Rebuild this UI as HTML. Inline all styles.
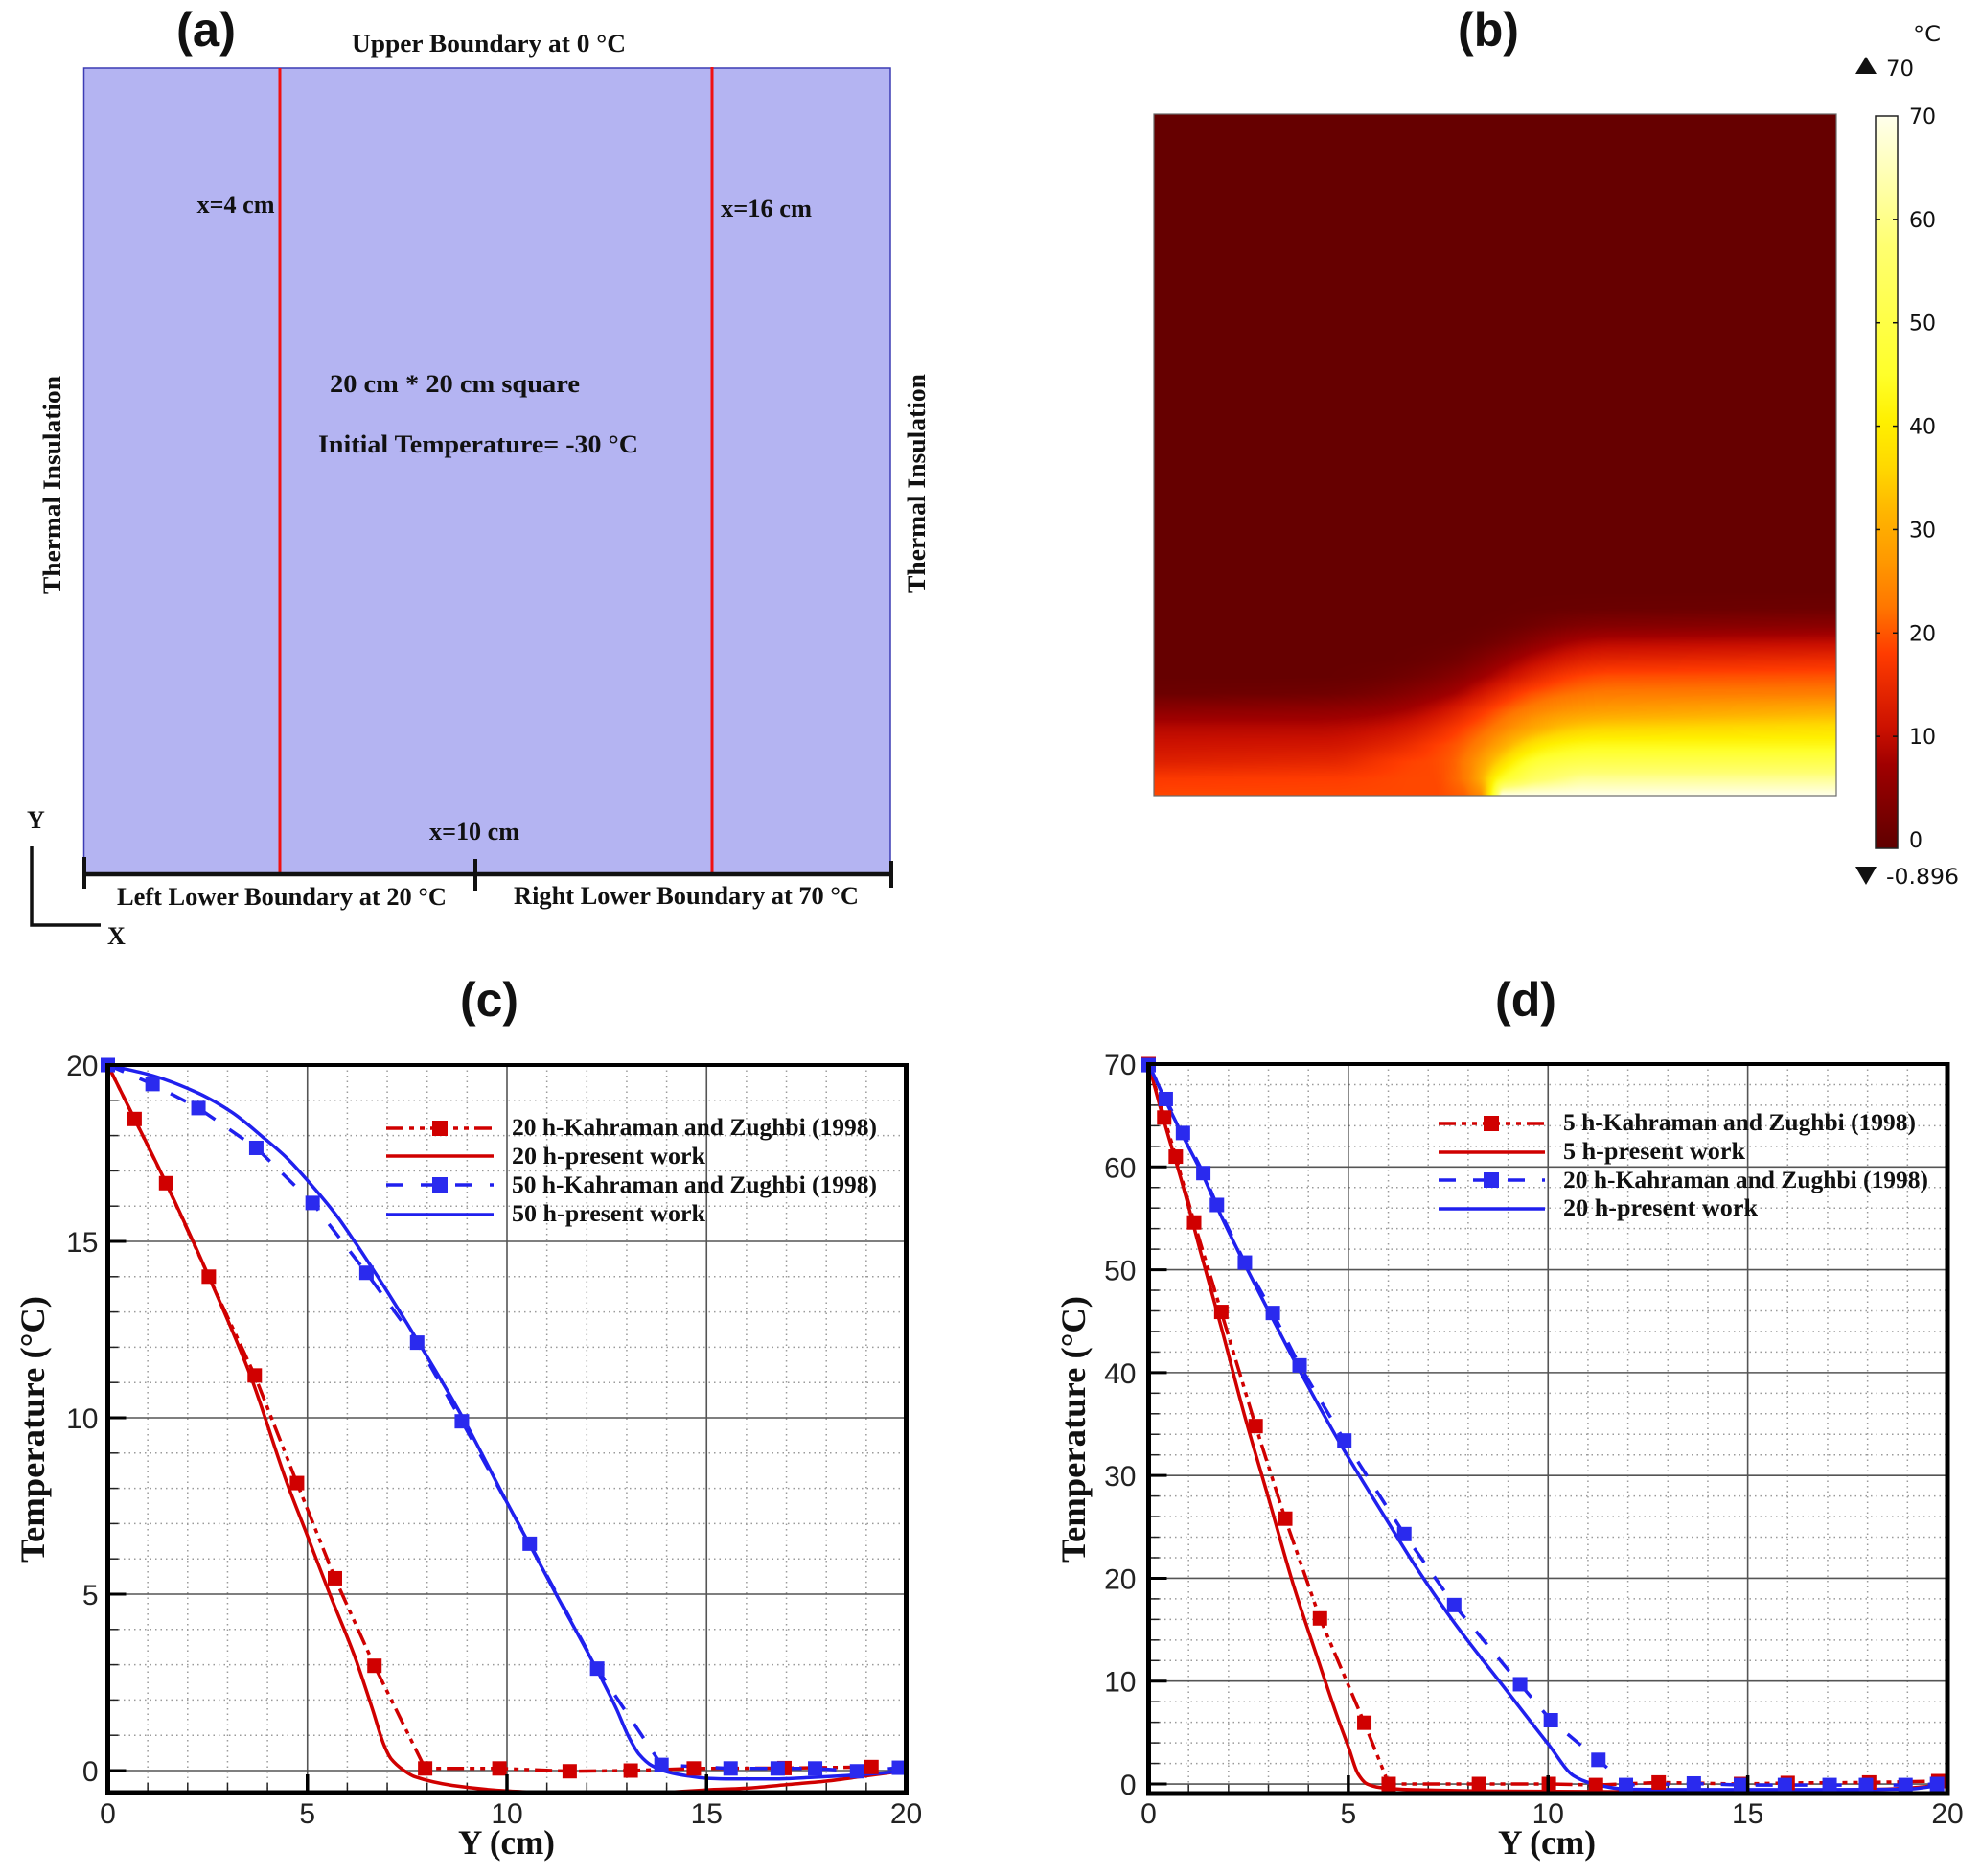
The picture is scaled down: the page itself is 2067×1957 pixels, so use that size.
<!DOCTYPE html>
<html lang="en">
<head>
<meta charset="utf-8">
<title>Temperature field and profiles</title>
<style>
html,body{margin:0;padding:0;background:#fff;}
#stage{position:relative;width:2067px;height:1957px;overflow:hidden;background:#fff;}
#heatmap{position:absolute;left:1204px;top:119px;width:712px;height:711px;}
#overlay{position:absolute;left:0;top:0;}
.serif{font-family:"Liberation Serif",serif;font-weight:bold;fill:#111;}
.sans{font-family:"Liberation Sans",sans-serif;fill:#111;}
.panel{font-family:"Liberation Sans",sans-serif;font-weight:bold;font-size:50px;fill:#111;}
.cb{font-family:"DejaVu Sans",sans-serif;font-size:22px;fill:#111;}
.tick{font-family:"Liberation Sans",sans-serif;font-size:30px;fill:#222;}
.leg{font-family:"Liberation Serif",serif;font-weight:bold;font-size:25px;fill:#111;}
.title{font-family:"Liberation Serif",serif;font-weight:bold;font-size:36px;fill:#111;}
.a{font-family:"Liberation Serif",serif;font-weight:bold;font-size:26px;fill:#111;}
</style>
</head>
<body>
<div id="stage">
<canvas id="heatmap" width="712" height="711"></canvas>
<svg id="overlay" width="2067" height="1957" viewBox="0 0 2067 1957" xmlns="http://www.w3.org/2000/svg">
  <defs>
    <clipPath id="clipC"><rect x="112" y="1105" width="834" height="765"/></clipPath>
    <clipPath id="clipD"><rect x="1198" y="1105" width="834" height="766"/></clipPath>
    <linearGradient id="cbGrad" x1="0" y1="1" x2="0" y2="0">
      <stop offset="0" stop-color="#5f0000"/>
      <stop offset="0.0126" stop-color="#660000"/>
      <stop offset="0.114" stop-color="#a00000"/>
      <stop offset="0.165" stop-color="#cc1100"/>
      <stop offset="0.266" stop-color="#ff3c00"/>
      <stop offset="0.33" stop-color="#ff7700"/>
      <stop offset="0.393" stop-color="#ff9900"/>
      <stop offset="0.456" stop-color="#ffb400"/>
      <stop offset="0.52" stop-color="#ffd800"/>
      <stop offset="0.583" stop-color="#fff000"/>
      <stop offset="0.646" stop-color="#ffff2a"/>
      <stop offset="0.823" stop-color="#ffff70"/>
      <stop offset="1" stop-color="#ffffec"/>
    </linearGradient>
  </defs>

  <!-- Panel (a) -->
  <g>
    <text class="panel" x="184" y="48" textLength="62" lengthAdjust="spacingAndGlyphs">(a)</text>
    <rect x="87.5" y="71" width="841.5" height="841" fill="#b4b4f2" stroke="#3c3cb4" stroke-width="1.5"/>
    <line x1="292" y1="71" x2="292" y2="912" stroke="#f01010" stroke-width="3"/>
    <line x1="743" y1="70" x2="743" y2="912" stroke="#f01010" stroke-width="3"/>
    <line x1="88" y1="912" x2="930" y2="912" stroke="#111" stroke-width="4.5"/>
    <line x1="88" y1="894" x2="88" y2="927" stroke="#111" stroke-width="4"/>
    <line x1="496" y1="896" x2="496" y2="929" stroke="#111" stroke-width="4"/>
    <line x1="930" y1="898" x2="930" y2="926" stroke="#111" stroke-width="4"/>
    <text class="a" x="367" y="54" textLength="286" lengthAdjust="spacingAndGlyphs">Upper Boundary at 0 °C</text>
    <text class="a" x="205.5" y="222" textLength="81" lengthAdjust="spacingAndGlyphs">x=4 cm</text>
    <text class="a" x="752" y="226" textLength="95" lengthAdjust="spacingAndGlyphs">x=16 cm</text>
    <text class="a" x="344" y="409" textLength="261" lengthAdjust="spacingAndGlyphs">20 cm * 20 cm square</text>
    <text class="a" x="332" y="472" textLength="334" lengthAdjust="spacingAndGlyphs">Initial Temperature= -30 °C</text>
    <text class="a" x="448" y="876" textLength="94" lengthAdjust="spacingAndGlyphs">x=10 cm</text>
    <text class="a" x="122" y="944" textLength="344" lengthAdjust="spacingAndGlyphs">Left Lower Boundary at 20 °C</text>
    <text class="a" x="536" y="943" textLength="360" lengthAdjust="spacingAndGlyphs">Right Lower Boundary at 70 °C</text>
    <text class="a" transform="rotate(-90 63 620)" x="63" y="620" textLength="228" lengthAdjust="spacingAndGlyphs">Thermal Insulation</text>
    <text class="a" transform="rotate(-90 965 619)" x="965" y="619" textLength="229" lengthAdjust="spacingAndGlyphs">Thermal Insulation</text>
    <path d="M33 883 V965 H105" fill="none" stroke="#111" stroke-width="3.5"/>
    <text class="a" x="28" y="864">Y</text>
    <text class="a" x="112" y="985">X</text>
  </g>

  <!-- Panel (b) frame and colourbar -->
  <g>
    <text class="panel" x="1521" y="48" textLength="64" lengthAdjust="spacingAndGlyphs">(b)</text>
    <rect x="1204" y="119" width="712" height="711" fill="none" stroke="#6a6a6a" stroke-width="1.2"/>
    <g id="colorbar">
      <rect x="1957" y="121" width="23" height="764" fill="url(#cbGrad)" stroke="#222" stroke-width="1.5"/>
    </g>
    <text class="cb" x="1996" y="43" textLength="29" lengthAdjust="spacingAndGlyphs">°C</text>
    <polygon points="1947,59 1958,77 1936,77" fill="#111"/>
    <text class="cb" x="1968" y="79" textLength="29" lengthAdjust="spacingAndGlyphs">70</text>
    <polygon points="1936,904 1958,904 1947,923" fill="#111"/>
    <text class="cb" x="1968" y="922" textLength="76" lengthAdjust="spacingAndGlyphs">-0.896</text>
  </g>

  <!-- Panel (c) -->
  <g id="chartC">
    <text class="panel" x="480" y="1060" textLength="61" lengthAdjust="spacingAndGlyphs">(c)</text>
    <text class="title" x="478" y="1934" textLength="101" lengthAdjust="spacingAndGlyphs">Y (cm)</text>
    <text class="title" transform="rotate(-90 46 1630)" x="46" y="1630" textLength="278" lengthAdjust="spacingAndGlyphs">Temperature (°C)</text>
  </g>
  <g id="legendC">
    <g>
      <line x1="403" y1="1177" x2="515" y2="1177" stroke="#d00000" stroke-width="3.5" stroke-dasharray="18 6 5 6 5 6"/>
      <rect x="451" y="1169" width="16" height="16" fill="#d00000"/>
      <text class="leg" x="534" y="1184" textLength="381" lengthAdjust="spacingAndGlyphs">20 h-Kahraman and Zughbi (1998)</text>
    </g>
    <g>
      <line x1="403" y1="1206" x2="515" y2="1206" stroke="#d00000" stroke-width="3.5"/>
      <text class="leg" x="534" y="1214" textLength="202" lengthAdjust="spacingAndGlyphs">20 h-present work</text>
    </g>
    <g>
      <line x1="403" y1="1236" x2="515" y2="1236" stroke="#2020ee" stroke-width="3.5" stroke-dasharray="18 18"/>
      <rect x="451" y="1228" width="16" height="16" fill="#2a2aee"/>
      <text class="leg" x="534" y="1244" textLength="381" lengthAdjust="spacingAndGlyphs">50 h-Kahraman and Zughbi (1998)</text>
    </g>
    <g>
      <line x1="403" y1="1267" x2="515" y2="1267" stroke="#2020ee" stroke-width="3.5"/>
      <text class="leg" x="534" y="1274" textLength="202" lengthAdjust="spacingAndGlyphs">50 h-present work</text>
    </g>
  </g>

  <!-- Panel (d) -->
  <g id="chartD">
    <text class="panel" x="1560" y="1060" textLength="64" lengthAdjust="spacingAndGlyphs">(d)</text>
    <text class="title" x="1563" y="1934" textLength="102" lengthAdjust="spacingAndGlyphs">Y (cm)</text>
    <text class="title" transform="rotate(-90 1132 1630)" x="1132" y="1630" textLength="278" lengthAdjust="spacingAndGlyphs">Temperature (°C)</text>
  </g>
  <g id="legendD">
    <g>
      <line x1="1501" y1="1172" x2="1612" y2="1172" stroke="#d00000" stroke-width="3.5" stroke-dasharray="18 6 5 6 5 6"/>
      <rect x="1548" y="1164" width="16" height="16" fill="#d00000"/>
      <text class="leg" x="1631" y="1179" textLength="368" lengthAdjust="spacingAndGlyphs">5 h-Kahraman and Zughbi (1998)</text>
    </g>
    <g>
      <line x1="1501" y1="1202" x2="1612" y2="1202" stroke="#d00000" stroke-width="3.5"/>
      <text class="leg" x="1631" y="1209" textLength="190" lengthAdjust="spacingAndGlyphs">5 h-present work</text>
    </g>
    <g>
      <line x1="1501" y1="1231" x2="1612" y2="1231" stroke="#2020ee" stroke-width="3.5" stroke-dasharray="18 18"/>
      <rect x="1548" y="1223" width="16" height="16" fill="#2a2aee"/>
      <text class="leg" x="1631" y="1239" textLength="381" lengthAdjust="spacingAndGlyphs">20 h-Kahraman and Zughbi (1998)</text>
    </g>
    <g>
      <line x1="1501" y1="1261" x2="1612" y2="1261" stroke="#2020ee" stroke-width="3.5"/>
      <text class="leg" x="1631" y="1268" textLength="203" lengthAdjust="spacingAndGlyphs">20 h-present work</text>
    </g>
  </g>
</svg>
</div>

<script>
// ---------- Panel (c) data ----------
const cXTicks = [0, 5, 10, 15, 20];
const cYTicks = [0, 5, 10, 15, 20];
const cRef20X = [0, 0.67, 1.46, 2.53, 3.68, 4.74, 5.69, 6.68, 7.95, 9.81, 11.57, 13.1, 14.68, 16.95, 19.13];
const cRef20Y = [20, 18.47, 16.65, 14.0, 11.2, 8.15, 5.45, 2.97, 0.06, 0.06, -0.02, 0, 0.06, 0.07, 0.1];
const cNow20X = [0, 0.67, 1.46, 2.53, 3.57, 4.49, 4.95, 5.56, 6.18, 6.64, 6.91, 7.1, 7.4, 7.7, 8.63, 10, 11, 12, 13, 14, 15, 16, 17, 18, 19, 20];
const cNow20Y = [20, 18.47, 16.65, 14.0, 11.2, 8.15, 6.8, 5.0, 3.25, 1.7, 0.75, 0.33, 0.02, -0.18, -0.42, -0.58, -0.63, -0.68, -0.68, -0.62, -0.55, -0.5, -0.4, -0.3, -0.15, 0];
const cRef50X = [0, 1.12, 2.27, 3.72, 5.13, 6.48, 7.75, 8.87, 10.57, 12.26, 13.87, 15.6, 16.78, 17.72, 18.77, 19.82];
const cRef50Y = [20, 19.46, 18.78, 17.65, 16.09, 14.11, 12.13, 9.9, 6.43, 2.89, 0.16, 0.06, 0.06, 0.06, -0.02, 0.08];
const cNow50X = [0, 1.12, 2.27, 3.11, 3.88, 4.49, 5.1, 5.72, 6.18, 6.79, 7.75, 8.87, 10, 10.57, 11.23, 12.27, 12.75, 13.03, 13.31, 13.63, 14.03, 14.51, 15.02, 15.71, 16.68, 17.7, 18.5, 19.3, 20];
const cNow50Y = [20, 19.7, 19.2, 18.66, 17.96, 17.36, 16.6, 15.75, 15, 13.95, 12.2, 10.05, 7.6, 6.4, 5.0, 2.82, 1.73, 1.0, 0.46, 0.14, -0.04, -0.15, -0.22, -0.24, -0.24, -0.19, -0.14, -0.08, 0];

// ---------- Panel (d) data ----------
const dXTicks = [0, 5, 10, 15, 20];
const dYTicks = [0, 10, 20, 30, 40, 50, 60, 70];
const dRef5X = [0, 0.39, 0.68, 1.14, 1.82, 2.68, 3.42, 4.29, 5.4, 6.01, 8.27, 10.02, 11.2, 12.77, 14.83, 16, 18.04, 19.77];
const dRef5Y = [70, 64.8, 61, 54.6, 45.9, 34.8, 25.8, 16.1, 5.95, 0, 0, 0, -0.1, 0.15, 0, 0.1, 0.15, 0.28];
const dNow5X = [0, 0.39, 0.85, 1.31, 1.82, 2.39, 3.01, 3.62, 4.24, 4.7, 5.01, 5.24, 5.47, 5.78, 6.55, 9, 12.1, 14, 16, 18, 19, 20];
const dNow5Y = [70, 64.4, 58.3, 51.6, 44.4, 36, 27.7, 19.4, 12.1, 6.8, 3.5, 1, 0, -0.33, -0.55, -0.7, -0.75, -0.7, -0.65, -0.55, -0.4, -0.05];
const dRef20X = [0, 0.43, 0.86, 1.37, 1.71, 2.41, 3.11, 3.78, 4.9, 6.4, 7.65, 9.3, 10.07, 11.26, 11.95, 13.65, 14.83, 15.93, 17.05, 17.96, 18.95, 19.74];
const dRef20Y = [69.9, 66.6, 63.3, 59.4, 56.3, 50.7, 45.8, 40.7, 33.4, 24.3, 17.4, 9.7, 6.2, 2.35, -0.1, 0.05, -0.1, -0.1, -0.1, -0.1, -0.1, 0];
const dNow20X = [0, 0.43, 0.86, 1.37, 1.71, 2.41, 3.11, 3.78, 4.9, 5.94, 6.71, 7.65, 9.02, 10.02, 10.64, 11.1, 11.95, 13, 15, 17, 19, 20];
const dNow20Y = [70, 66.4, 63, 59.1, 56.1, 50.5, 45.2, 40.2, 32.4, 25.8, 21, 15.7, 8.8, 3.8, 0.8, 0.05, -0.5, -0.55, -0.55, -0.55, -0.5, 0];

// ---------- Panel (b) data: temperature read at column x (cm) and height above the lower edge (cm) ----------
const fieldX = [0, 5.5, 7.4, 8.3, 9.1, 9.6, 9.9, 10.2, 11.1, 12.5, 20];
const fieldH = [0, 0.5, 1, 1.5, 2, 2.5, 3, 3.5, 4, 4.5, 5, 5.5, 6, 20];
const fieldT0 = [21, 19.5, 14.8, 12.3, 10, 5.5, 0.8, 0, 0, 0, 0, 0, 0, 0];
const fieldT55 = [21, 20, 16, 12.8, 10, 6, 1.5, 0, 0, 0, 0, 0, 0, 0];
const fieldT74 = [21, 21, 20.5, 16.5, 12.5, 8, 4, 1.2, 0, 0, 0, 0, 0, 0];
const fieldT83 = [21, 21, 21, 20.5, 16, 11, 6.5, 3, 0.8, 0, 0, 0, 0, 0];
const fieldT91 = [23, 25, 24.5, 22.5, 20.7, 15.5, 9, 5, 2, 0.3, 0, 0, 0, 0];
const fieldT96 = [28, 33, 31.5, 26.5, 23, 19.5, 11.5, 7.5, 3, 0.6, 0, 0, 0, 0];
const fieldT99 = [48, 44, 34.5, 29.5, 24.5, 21, 15, 8, 4.5, 1, 0, 0, 0, 0];
const fieldT102 = [70, 50, 41.5, 32, 26, 23, 18.5, 11, 7, 2.5, 0.3, 0, 0, 0];
const fieldT111 = [70, 58, 52, 43.5, 33, 27, 22, 15.8, 10, 5, 1.5, 0.2, 0, 0];
const fieldT125 = [70, 63, 55, 48, 39, 30.5, 25.5, 21.5, 15.5, 10, 4, 0.5, 0, 0];
const fieldT20 = [70, 63, 55, 47.5, 41.5, 34, 26, 22, 17, 11, 5, 1, 0, 0];
const fieldColumns = [fieldT0, fieldT55, fieldT74, fieldT83, fieldT91, fieldT96, fieldT99, fieldT102, fieldT111, fieldT125, fieldT20];
const colorbarTicks = [0, 10, 20, 30, 40, 50, 60, 70];
const rampValues = [0, 8, 12, 20, 25, 30, 35, 40, 45, 50, 60, 70];
const rampColors = [[102,0,0],[160,0,0],[204,17,0],[255,60,0],[255,119,0],[255,153,0],[255,180,0],[255,216,0],[255,240,0],[255,255,42],[255,255,112],[255,255,236]];

const SVGNS = 'http://www.w3.org/2000/svg';
function mk(tag, attrs, parent) {
  const el = document.createElementNS(SVGNS, tag);
  for (const k in attrs) el.setAttribute(k, attrs[k]);
  parent.appendChild(el);
  return el;
}
function linear(d0, d1, r0, r1) {
  return function (v) { return r0 + (v - d0) / (d1 - d0) * (r1 - r0); };
}
function findSpan(arr, v) {
  let i = 0;
  while (i < arr.length - 2 && v > arr[i + 1]) i++;
  return i;
}
function rampColor(t) {
  const i = findSpan(rampValues, t);
  const f = Math.max(0, Math.min(1, (t - rampValues[i]) / (rampValues[i + 1] - rampValues[i])));
  const a = rampColors[i], b = rampColors[i + 1];
  return [a[0] + (b[0] - a[0]) * f, a[1] + (b[1] - a[1]) * f, a[2] + (b[2] - a[2]) * f];
}
function sampleField(x, h) {
  const cx = Math.max(0, Math.min(20, x));
  const j = findSpan(fieldH, h);
  const fy = Math.max(0, Math.min(1, (h - fieldH[j]) / (fieldH[j + 1] - fieldH[j])));
  const i = findSpan(fieldX, cx);
  const fx = Math.max(0, Math.min(1, (cx - fieldX[i]) / (fieldX[i + 1] - fieldX[i])));
  const c0 = fieldColumns[i], c1 = fieldColumns[i + 1];
  const t0 = c0[j] + (c0[j + 1] - c0[j]) * fy;
  const t1 = c1[j] + (c1[j + 1] - c1[j]) * fy;
  return t0 + (t1 - t0) * fx;
}
function drawField() {
  const cv = document.getElementById('heatmap');
  const ctx = cv.getContext('2d');
  const img = ctx.createImageData(cv.width, cv.height);
  const pxPerCmX = cv.width / 20, pxPerCmY = cv.height / 20;
  const offsets = [-1, -0.5, 0, 0.5, 1];
  for (let py = 0; py < cv.height; py++) {
    const h = (cv.height - 0.5 - py) / pxPerCmY;
    // smoothing width grows with distance from the lower edge so the singular point stays sharp
    const w = Math.min(0.35 * h, 0.8);
    for (let px = 0; px < cv.width; px++) {
      const x = (px + 0.5) / pxPerCmX;
      let sum = 0;
      if (h < 8) {
        for (let k = 0; k < offsets.length; k++) sum += sampleField(x + offsets[k] * w, h);
        sum /= offsets.length;
      }
      const c = rampColor(sum);
      const o = (py * cv.width + px) * 4;
      img.data[o] = c[0]; img.data[o + 1] = c[1]; img.data[o + 2] = c[2]; img.data[o + 3] = 255;
    }
  }
  ctx.putImageData(img, 0, 0);
}
function drawColorbar() {
  const group = document.getElementById('colorbar');
  const y = linear(0, 70, 876, 121);
  colorbarTicks.forEach(function (v) {
    if (v !== 70 && v !== 0) {
      const tl = mk('line', { x1: 1957, x2: 1962, y1: y(v), y2: y(v), stroke: '#111', 'stroke-width': 1.5 }, group);
      
      
      const tr = mk('line', { x1: 1975, x2: 1980, y1: y(v), y2: y(v), stroke: '#111', 'stroke-width': 1.5 }, group);
      
      
    }
    const lab = mk('text', { x: 1992, y: y(v) + 8, class: 'cb' }, group);
    
    
    lab.textContent = String(v);
  });
}
// Smooth monotone cubic path through the read data points (screen coordinates).
function smoothPath(px, py) {
  const n = px.length;
  const d = [], m = [];
  for (let i = 0; i < n - 1; i++) d.push((py[i + 1] - py[i]) / (px[i + 1] - px[i]));
  m.push(d[0]);
  for (let i = 1; i < n - 1; i++) {
    m.push(d[i - 1] * d[i] <= 0 ? 0 : 2 * d[i - 1] * d[i] / (d[i - 1] + d[i]));
  }
  m.push(d[n - 2]);
  let out = 'M' + px[0].toFixed(1) + ' ' + py[0].toFixed(1);
  for (let i = 0; i < n - 1; i++) {
    const h = (px[i + 1] - px[i]) / 3;
    out += ' C' + (px[i] + h).toFixed(1) + ' ' + (py[i] + m[i] * h).toFixed(1) + ' ' +
      (px[i + 1] - h).toFixed(1) + ' ' + (py[i + 1] - m[i + 1] * h).toFixed(1) + ' ' +
      px[i + 1].toFixed(1) + ' ' + py[i + 1].toFixed(1);
  }
  return out;
}
function drawChart(cfg) {
  const root = cfg.root;
  const sx = linear(cfg.xMin, cfg.xMax, cfg.left, cfg.right);
  const sy = linear(cfg.yMin, cfg.yMax, cfg.bottom, cfg.top);

  // minor dotted grid
  for (let v = cfg.xMin + 1; v < cfg.xMax; v += 1) {
    if (v % cfg.xMajor === 0) continue;
    const g = mk('line', { x1: sx(v), x2: sx(v), y1: cfg.top, y2: cfg.bottom, stroke: '#9a9a9a', 'stroke-width': 1.5, 'stroke-dasharray': '1.5 4' }, root);
    
    
    const t = mk('line', { x1: sx(v), x2: sx(v), y1: cfg.bottom - 10, y2: cfg.bottom, stroke: '#222', 'stroke-width': 1.5 }, root);
    
    
  }
  for (let v = 0; v < cfg.yMax; v += cfg.yMinor) {
    if (v % cfg.yMajor === 0) continue;
    const g = mk('line', { x1: cfg.left, x2: cfg.right, y1: sy(v), y2: sy(v), stroke: '#9a9a9a', 'stroke-width': 1.5, 'stroke-dasharray': '1.5 4' }, root);
    
    
    const t = mk('line', { x1: cfg.left, x2: cfg.left + 11, y1: sy(v), y2: sy(v), stroke: '#222', 'stroke-width': 1.5 }, root);
    
    
  }
  // major grid
  cfg.xTicks.forEach(function (v) {
    if (v === cfg.xMin || v === cfg.xMax) return;
    const g = mk('line', { x1: sx(v), x2: sx(v), y1: cfg.top, y2: cfg.bottom, stroke: '#555', 'stroke-width': 1.6 }, root);
    
    
  });
  cfg.yTicks.forEach(function (v) {
    if (v === cfg.yMax) return;
    const g = mk('line', { x1: cfg.left, x2: cfg.right, y1: sy(v), y2: sy(v), stroke: '#555', 'stroke-width': 1.6 }, root);
    
    
  });

  // series lines
  cfg.series.forEach(function (s) {
    const px = s.x.map(sx);
    const py = s.y.map(sy);
    if (s.dash) {
      const pts = px.map(function (v, i) { return v.toFixed(1) + ',' + py[i].toFixed(1); }).join(' ');
      const line = mk('polyline', { points: pts, fill: 'none', stroke: s.color, 'stroke-width': 3.5, 'stroke-linejoin': 'round', 'stroke-dasharray': s.dash, 'clip-path': 'url(#' + cfg.clip + ')' }, root);
      
      
    } else {
      const curve = mk('path', { d: smoothPath(px, py), fill: 'none', stroke: s.color, 'stroke-width': 3.5, 'stroke-linejoin': 'round', 'clip-path': 'url(#' + cfg.clip + ')' }, root);
      
      
    }
  });
  // series markers
  cfg.series.forEach(function (s) {
    if (!s.marker) return;
    s.x.forEach(function (v, i) {
      const m = mk('rect', { x: sx(v) - 7.5, y: sy(s.y[i]) - 7.5, width: 15, height: 15, fill: s.marker }, root);
      
      
    });
  });

  // frame
  const fl = mk('line', { x1: cfg.left, x2: cfg.left, y1: cfg.top - 2, y2: cfg.bottom + 2.5, stroke: '#000', 'stroke-width': 5 }, root);
  
  
  const fr = mk('line', { x1: cfg.right, x2: cfg.right, y1: cfg.top - 2, y2: cfg.bottom + 2.5, stroke: '#000', 'stroke-width': 5 }, root);
  
  
  const fb = mk('line', { x1: cfg.left, x2: cfg.right, y1: cfg.bottom, y2: cfg.bottom, stroke: '#000', 'stroke-width': 5 }, root);
  
  
  const ft = mk('line', { x1: cfg.left, x2: cfg.right, y1: cfg.top, y2: cfg.top, stroke: '#000', 'stroke-width': 4 }, root);
  
  

  // major ticks and labels
  cfg.xTicks.forEach(function (v) {
    if (v !== cfg.xMin && v !== cfg.xMax) {
      const t = mk('line', { x1: sx(v), x2: sx(v), y1: cfg.bottom - 19, y2: cfg.bottom, stroke: '#000', 'stroke-width': 3.5 }, root);
      
      
    }
    const l = mk('text', { x: sx(v), y: cfg.xLabelY, 'text-anchor': 'middle', class: 'tick' }, root);
    
    
    l.textContent = String(v);
  });
  cfg.yTicks.forEach(function (v) {
    const t = mk('line', { x1: cfg.left, x2: cfg.left + 19, y1: sy(v), y2: sy(v), stroke: '#000', 'stroke-width': 3 }, root);
    
    
    const l = mk('text', { x: cfg.left - cfg.yLabelGap, y: sy(v) + 11, 'text-anchor': 'end', class: 'tick' }, root);
    
    
    l.textContent = String(v);
  });
}

const RED = '#d00000', BLUE = '#2020ee', BLUE_MARK = '#2a2aee';
const DASHDOT = '18 6 5 6 5 6', DASH = '18 18';

drawField();
drawColorbar();
drawChart({
  root: document.getElementById('chartC'), clip: 'clipC',
  left: 112.5, right: 945.5, top: 1111, bottom: 1870,
  xMin: 0, xMax: 20, yMin: -0.625, yMax: 20,
  xMajor: 5, yMajor: 5, yMinor: 1, xTicks: cXTicks, yTicks: cYTicks,
  xLabelY: 1902, yLabelGap: 10,
  series: [
    { name: 'reference-20h', x: cRef20X, y: cRef20Y, color: RED, dash: DASHDOT, marker: RED },
    { name: 'present-20h', x: cNow20X, y: cNow20Y, color: RED },
    { name: 'reference-50h', x: cRef50X, y: cRef50Y, color: BLUE, dash: DASH, marker: BLUE_MARK },
    { name: 'present-50h', x: cNow50X, y: cNow50Y, color: BLUE }
  ]
});
drawChart({
  root: document.getElementById('chartD'), clip: 'clipD',
  left: 1198.5, right: 2032, top: 1110, bottom: 1871,
  xMin: 0, xMax: 20, yMin: -0.93, yMax: 70,
  xMajor: 5, yMajor: 10, yMinor: 2, xTicks: dXTicks, yTicks: dYTicks,
  xLabelY: 1902, yLabelGap: 13,
  series: [
    { name: 'reference-5h', x: dRef5X, y: dRef5Y, color: RED, dash: DASHDOT, marker: RED },
    { name: 'present-5h', x: dNow5X, y: dNow5Y, color: RED },
    { name: 'reference-20h', x: dRef20X, y: dRef20Y, color: BLUE, dash: DASH, marker: BLUE_MARK },
    { name: 'present-20h', x: dNow20X, y: dNow20Y, color: BLUE }
  ]
});
// keep legends above the plot contents
const svgRoot = document.getElementById('overlay');
svgRoot.appendChild(document.getElementById('legendC'));
svgRoot.appendChild(document.getElementById('legendD'));
</script>
</body>
</html>
